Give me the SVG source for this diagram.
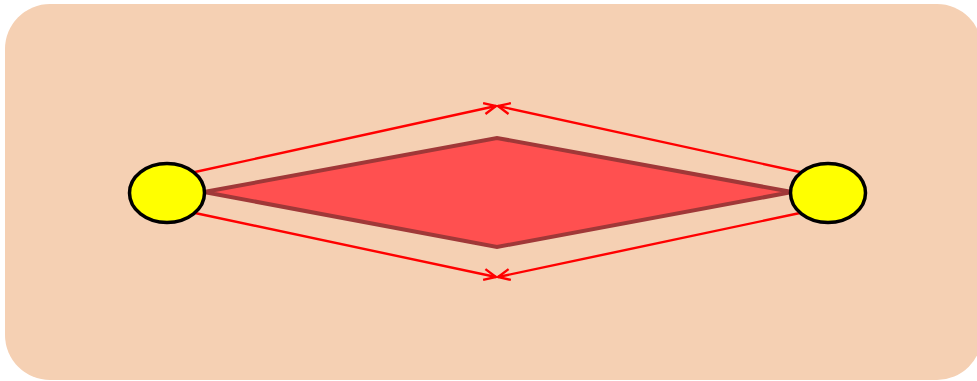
<svg xmlns="http://www.w3.org/2000/svg" width="977" height="381" viewBox="0 0 977 381">
<style>
.node{fill:#ffff00;stroke:#000;stroke-width:3.5}
.edge{fill:none;stroke:#ff0000;stroke-width:2.4}
</style>
<defs>
<marker id="arr" viewBox="0 0 14 14" refX="13" refY="7" markerWidth="14" markerHeight="14" markerUnits="userSpaceOnUse" orient="auto">
<path d="M1,1.5 L13,7 L1,12.5" fill="none" stroke="#ff0000" stroke-width="2.4"/>
</marker>
</defs>
<rect x="5" y="4" width="977" height="376" rx="45" ry="45" fill="#f5d0b3"/>
<g id="shape">
<polygon points="204,192 497,138 792,192 497,247" fill="#ff5050" stroke="#a03838" stroke-width="4" stroke-linejoin="miter"/>
</g>
<g id="connectors">
<line class="edge" x1="195" y1="172" x2="496" y2="106" marker-end="url(#arr)"/>
<line class="edge" x1="800" y1="172" x2="498" y2="106" marker-end="url(#arr)"/>
<line class="edge" x1="195" y1="213" x2="496" y2="277" marker-end="url(#arr)"/>
<line class="edge" x1="800" y1="213" x2="498" y2="277" marker-end="url(#arr)"/>
</g>
<g id="left">
<ellipse class="node" cx="167" cy="193" rx="37.5" ry="29.5"/>
</g>
<g id="right">
<ellipse class="node" cx="828" cy="193" rx="37.5" ry="29.5"/>
</g>
</svg>
